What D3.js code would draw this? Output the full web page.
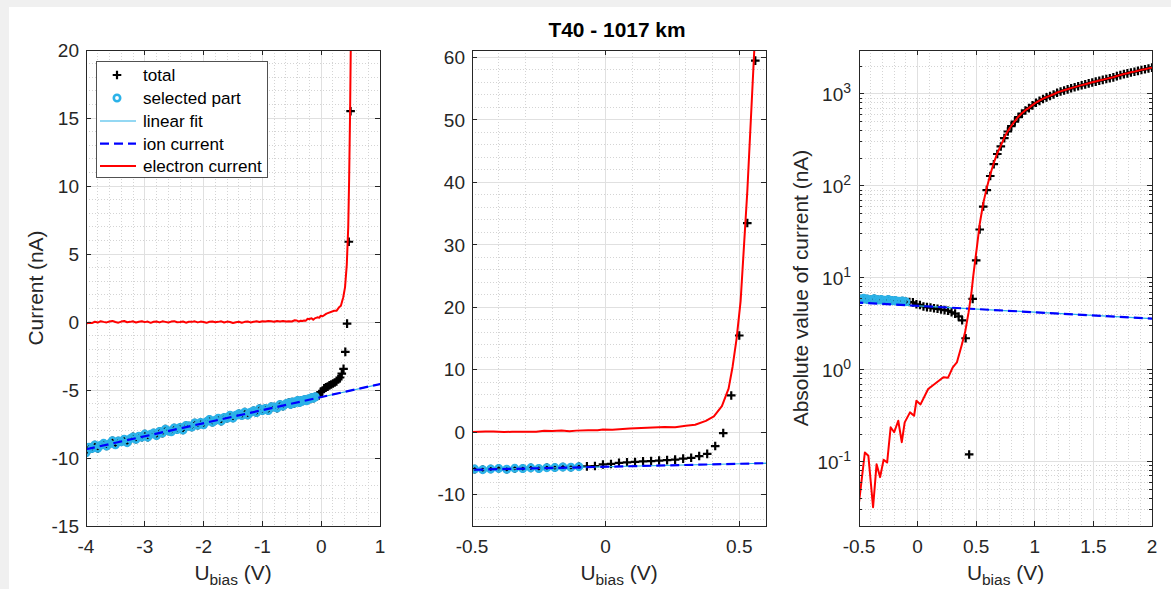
<!DOCTYPE html>
<html><head><meta charset="utf-8">
<script src="https://cdn.jsdelivr.net/npm/d3@7"></script>
<style>
body{margin:0;background:#fff;}
svg{display:block;}
text{font-family:"Liberation Sans",Arial,Helvetica,sans-serif;fill:#262626;}
</style>
</head><body>
<svg id="c" width="1171" height="589"></svg>
<script>
// ---------------- DATA ----------------
const titleText = "T40 - 1017 km";
const legendLabels = ["total", "selected part", "linear fit", "ion current", "electron current"];

// selected part of the sweep (used for the ion-current fit)
const selU = [-4.00,-3.95,-3.90,-3.85,-3.80,-3.75,-3.70,-3.65,-3.60,-3.55,-3.50,-3.45,-3.40,-3.35,-3.30,-3.25,-3.20,-3.15,-3.10,-3.05,
  -3.00,-2.95,-2.90,-2.85,-2.80,-2.75,-2.70,-2.65,-2.60,-2.55,-2.50,-2.45,-2.40,-2.35,-2.30,-2.25,-2.20,-2.15,-2.10,-2.05,
  -2.00,-1.95,-1.90,-1.85,-1.80,-1.75,-1.70,-1.65,-1.60,-1.55,-1.50,-1.45,-1.40,-1.35,-1.30,-1.25,-1.20,-1.15,-1.10,-1.05,
  -1.00,-0.95,-0.90,-0.85,-0.80,-0.75,-0.70,-0.65,-0.60,-0.55,
  -0.52,-0.49,-0.46,-0.43,-0.40,-0.37,-0.34,-0.31,-0.28,-0.25,-0.22,-0.19,-0.16,-0.13,-0.10];
const selI = [-9.61,-9.21,-9.31,-9.04,-9.29,-9.06,-8.92,-9.12,-8.96,-8.73,
  -9.03,-8.75,-8.81,-8.62,-8.87,-8.59,-8.45,-8.62,-8.40,-8.47,
  -8.24,-8.47,-8.26,-8.17,-8.35,-8.05,-8.17,-7.88,-8.01,-8.07,
  -7.79,-7.91,-7.75,-7.94,-7.61,-7.65,-7.72,-7.43,-7.59,-7.39,
  -7.56,-7.33,-7.17,-7.37,-7.23,-7.08,-7.29,-7.02,-7.08,-6.86,
  -7.06,-6.86,-6.75,-6.88,-6.63,-6.84,-6.64,-6.53,-6.66,-6.37,
  -6.51,-6.36,-6.51,-6.24,-6.25,-6.33,-6.06,-6.19,-6.02,-5.93,
  -6.06,-5.89,-5.98,-5.87,-5.78,-5.92,-5.77,-5.80,-5.69,-5.79,-5.66,-5.65,-5.56,-5.60,-5.50];

// rest of the total sweep
const restU = [-0.07,-0.04,-0.01,0.02,0.05,0.08,0.11,0.14,0.17,0.20,0.23,0.26,0.29,0.32,0.35,0.38,0.41,0.44,
  0.47,0.50,0.53,0.56,0.59,0.62,0.65,0.68,0.71,0.74,0.77,0.80,0.83,0.86,0.89,0.92,0.95,0.98,
  1.01,1.04,1.07,1.10,1.13,1.16,1.19,1.22,1.25,1.28,1.31,1.34,1.37,1.40,1.43,1.46,1.49,1.52,1.55,1.58,
  1.61,1.64,1.67,1.70,1.73,1.76,1.79,1.82,1.85,1.88,1.91,1.94,1.97,2.00];
const restI = [-5.45,-5.40,-5.15,-5.07,-4.88,-4.80,-4.75,-4.66,-4.60,-4.52,-4.45,-4.38,-4.22,-4.08,-3.80,-3.45,-2.20,-0.12,
  5.9,15.5,33.5,59.5,90,128,172,222,268,330,390,445,500,560,610,660,700,750,
  800,840,880,915,950,985,1030,1060,1090,1120,1150,1180,1210,1240,1270,1300,1330,1360,1390,1420,
  1450,1480,1510,1560,1600,1640,1670,1710,1740,1780,1820,1850,1890,1930];

// linear fit and ion current (same line)
const fitU = [-4.0, 2.0];
const fitI = [-9.36, -3.60];
const ionU = [-4.0, 2.0];
const ionI = [-9.36, -3.60];

// electron current
const elU = selU.slice(0, 70).concat([
  -0.50,-0.45,-0.42,-0.38,-0.35,-0.32,-0.29,-0.26,-0.23,-0.20,-0.165,-0.135,-0.11,-0.065,-0.03,-0.01,
  0.025,0.09,0.22,0.26,0.30,0.335,0.375,0.405,0.435,0.46,0.475,0.49,0.505]).concat(restU.slice(20));
const elI = [-0.12,-0.05,-0.08,0.02,-0.04,0.06,0.01,-0.03,0.04,0.08,
  0.00,-0.05,0.03,0.07,-0.02,0.01,0.05,-0.04,0.02,0.06,
  -0.01,0.03,-0.06,0.02,0.04,-0.03,0.05,0.01,-0.04,0.03,
  0.06,-0.02,0.00,0.04,-0.05,0.02,0.01,0.05,-0.03,0.03,
  0.00,-0.06,0.02,0.04,-0.02,0.01,0.05,-0.04,0.03,0.00,
  -0.07,-0.02,0.02,-0.05,0.01,0.04,-0.03,0.02,0.05,0.00,
  0.06,0.03,0.08,0.05,0.02,0.07,0.04,0.08,0.03,0.06,
  0.036,0.126,0.116,0.032,0.094,0.068,0.105,0.098,0.237,0.209,0.279,0.163,0.268,0.344,0.316,0.46,
  0.42,0.617,0.83,0.82,1.06,1.2,1.82,2.55,4.2,7.0,10.5,15.0,21.0,
  38.5,64.5,95,133,177,227,273,335,395,450,505,565,615,665,705,755,
  805,845,885,920,955,990,1035,1065,1095,1125,1155,1185,1215,1245,1275,1305,1335,1365,1395,1425,
  1455,1485,1515,1565,1605,1645,1675,1715,1745,1785,1825,1855,1895,1935];

// tick values
const p1XTicks = [-4,-3,-2,-1,0,1];
const p1YTicks = [-15,-10,-5,0,5,10,15,20];
const p2XTicks = [-0.5,0,0.5];
const p2YTicks = [-10,0,10,20,30,40,50,60];
const p3XTicks = [-0.5,0,0.5,1,1.5,2];
const p3YTicks = [0.1,1,10,100,1000];

// ---------------- DRAW ----------------
const W = 1171, H = 589;
const svg = d3.select("#c");
svg.append("rect").attr("width", W).attr("height", H).attr("fill", "#f0f0f0");
svg.append("rect").attr("x", 9).attr("y", 7).attr("width", W - 9).attr("height", H - 7).attr("fill", "#ffffff");

const AX = "#262626";
const CYAN = "#2BB2E8";
const FS_TICK = 19, FS_LAB = 20.9, FS_LEG = 17.1;
const PL = 4.3, PW = 2.2, CR = 3.2, CW = 2.6;
const zip = (a, b) => a.map((v, i) => [v, b[i]]);
const selected = zip(selU, selI);
const total = selected.concat(zip(restU, restI));
const fit = zip(fitU, fitI);
const ion = zip(ionU, ionI);
const electron = zip(elU, elI);

function fmt(v) { return String(v); }

function minorVals(a, b, step, majors) {
  const out = [];
  const n = Math.round((b - a) / step);
  for (let i = 0; i <= n; i++) {
    const v = a + i * step;
    if (!majors.some(m => Math.abs(m - v) < 1e-6)) out.push(v);
  }
  return out;
}

function drawPanel(p) {
  const g = svg.append("g");
  const xs = d3.scaleLinear().domain(p.xDom).range([p.l, p.r]);
  const ys = (p.log ? d3.scaleLog() : d3.scaleLinear()).domain(p.yDom).range([p.b, p.t]);
  const cid = "clip" + p.id;
  svg.append("clipPath").attr("id", cid).append("rect")
    .attr("x", p.l).attr("y", p.t).attr("width", p.r - p.l).attr("height", p.b - p.t);

  // grid
  const grid = g.append("g").attr("shape-rendering", "crispEdges");
  const minorStyle = s => s.attr("stroke", "#d4d4d4").attr("stroke-width", 1).attr("stroke-dasharray", "1,2");
  p.xMinor.forEach(v => minorStyle(grid.append("line").attr("x1", xs(v)).attr("x2", xs(v)).attr("y1", p.t).attr("y2", p.b)));
  p.yMinor.forEach(v => minorStyle(grid.append("line").attr("y1", ys(v)).attr("y2", ys(v)).attr("x1", p.l).attr("x2", p.r)));
  p.xTicks.forEach(v => grid.append("line").attr("x1", xs(v)).attr("x2", xs(v)).attr("y1", p.t).attr("y2", p.b).attr("stroke", "#e0e0e0"));
  p.yTicks.forEach(v => grid.append("line").attr("y1", ys(v)).attr("y2", ys(v)).attr("x1", p.l).attr("x2", p.r).attr("stroke", "#e0e0e0"));

  // data
  const dg = g.append("g").attr("clip-path", `url(#${cid})`);
  const yv = v => p.log ? Math.abs(v) : v;
  const pts = p.filter ? total.filter(p.filter) : total;
  dg.append("path")
    .attr("d", pts.map(d => { const X = xs(d[0]), Y = ys(yv(d[1])); return `M${X - PL},${Y}h${2 * PL}M${X},${Y - PL}v${2 * PL}`; }).join(""))
    .attr("stroke", "#000").attr("stroke-width", PW).attr("fill", "none");
  dg.selectAll("circle.sel").data(p.filter ? selected.filter(p.filter) : selected).join("circle")
    .attr("cx", d => xs(d[0])).attr("cy", d => ys(yv(d[1]))).attr("r", CR)
    .attr("fill", "none").attr("stroke", CYAN).attr("stroke-width", CW);
  const line = d3.line().x(d => xs(d[0])).y(d => ys(yv(d[1]))).defined(d => !p.log || Math.abs(d[1]) > 0);
  dg.append("path").attr("d", line(fit)).attr("fill", "none").attr("stroke", CYAN).attr("stroke-width", 1.2);
  dg.append("path").attr("d", line(ion)).attr("fill", "none").attr("stroke", "#0000FF").attr("stroke-width", 2.2).attr("stroke-dasharray", "9,5");
  const el = p.filter ? electron.filter(p.filter) : electron;
  dg.append("path").attr("d", line(el)).attr("fill", "none").attr("stroke", "#FF0000").attr("stroke-width", 2).attr("stroke-linejoin", "round");

  // axes box + ticks
  const ax = g.append("g").attr("shape-rendering", "crispEdges");
  ax.append("rect").attr("x", p.l).attr("y", p.t).attr("width", p.r - p.l).attr("height", p.b - p.t)
    .attr("fill", "none").attr("stroke", AX).attr("stroke-width", 1);
  const TL = 5;
  p.xTicks.forEach(v => {
    const X = xs(v);
    ax.append("line").attr("x1", X).attr("x2", X).attr("y1", p.b).attr("y2", p.b - TL).attr("stroke", AX);
    ax.append("line").attr("x1", X).attr("x2", X).attr("y1", p.t).attr("y2", p.t + TL).attr("stroke", AX);
    g.append("text").attr("x", X).attr("y", 553).attr("text-anchor", "middle").attr("font-size", FS_TICK).text(fmt(v));
  });
  p.yTicks.forEach(v => {
    const Y = ys(v);
    ax.append("line").attr("y1", Y).attr("y2", Y).attr("x1", p.l).attr("x2", p.l + TL).attr("stroke", AX);
    ax.append("line").attr("y1", Y).attr("y2", Y).attr("x1", p.r).attr("x2", p.r - TL).attr("stroke", AX);
    if (p.log) {
      const e = Math.round(Math.log10(v));
      const t = g.append("text").attr("x", p.l - 8).attr("y", Y + 7).attr("text-anchor", "end").attr("font-size", FS_TICK);
      t.append("tspan").text("10");
      t.append("tspan").attr("dy", -8).attr("font-size", 14).text(String(e));
    } else {
      g.append("text").attr("x", p.l - 7).attr("y", Y).attr("dy", "0.35em").attr("text-anchor", "end").attr("font-size", FS_TICK).text(fmt(v));
    }
  });
  if (p.log) {
    p.yMinor.forEach(v => {
      const Y = ys(v);
      ax.append("line").attr("y1", Y).attr("y2", Y).attr("x1", p.l).attr("x2", p.l + 3).attr("stroke", AX);
      ax.append("line").attr("y1", Y).attr("y2", Y).attr("x1", p.r).attr("x2", p.r - 3).attr("stroke", AX);
    });
  }

  // x label
  const cx = (p.l + p.r) / 2;
  const xl = g.append("text").attr("x", cx).attr("y", 580).attr("text-anchor", "middle").attr("font-size", FS_LAB);
  xl.append("tspan").text("U");
  xl.append("tspan").attr("dy", 5).attr("font-size", 15.5).text("bias");
  xl.append("tspan").attr("dy", -5).text(" (V)");
  if (p.ylabel) {
    g.append("text").attr("transform", `translate(${p.ylx},${(p.t + p.b) / 2}) rotate(-90)`)
      .attr("text-anchor", "middle").attr("font-size", FS_LAB).text(p.ylabel);
  }
  return { xs, ys };
}

// Panel 1
drawPanel({ id: 1, l: 86, r: 380, t: 50, b: 526, xDom: [-4, 1], yDom: [-15, 20],
  xTicks: p1XTicks, yTicks: p1YTicks,
  xMinor: minorVals(-4, 1, 0.2, p1XTicks), yMinor: minorVals(-15, 20, 1, p1YTicks),
  ylabel: "Current (nA)", ylx: 43 });

// Panel 2
drawPanel({ id: 2, l: 472, r: 766, t: 50, b: 526, xDom: [-0.5, 0.6], yDom: [-15, 61.2],
  xTicks: p2XTicks, yTicks: p2YTicks,
  xMinor: minorVals(-0.5, 0.6, 0.1, p2XTicks), yMinor: minorVals(-14, 60, 2, p2YTicks),
  filter: d => d[0] >= -0.56 });

// Panel 3 (log)
const logMinor = [];
for (let e = -2; e <= 3; e++) for (let k = 2; k <= 9; k++) { const v = k * Math.pow(10, e); if (v >= 0.02 && v <= 3000) logMinor.push(v); }
drawPanel({ id: 3, l: 859, r: 1152, t: 50, b: 526, xDom: [-0.5, 2], yDom: [0.02, 3000], log: true,
  xTicks: p3XTicks, yTicks: p3YTicks,
  xMinor: minorVals(-0.5, 2, 0.1, p3XTicks), yMinor: logMinor,
  filter: d => d[0] >= -0.56,
  ylabel: "Absolute value of current (nA)", ylx: 808 });

// Title
svg.append("text").attr("x", 617).attr("y", 37).attr("text-anchor", "middle")
  .attr("font-size", 20.9).attr("font-weight", "bold").style("fill", "#000").text(titleText);

// Legend (panel 1)
const lg = svg.append("g");
lg.append("rect").attr("x", 96).attr("y", 61).attr("width", 171).attr("height", 116)
  .attr("fill", "#fff").attr("stroke", AX).attr("stroke-width", 0.8).attr("shape-rendering", "crispEdges");
const rowY = [75, 98, 121, 143.7, 166];
legendLabels.forEach((t, i) => {
  lg.append("text").attr("x", 143).attr("y", rowY[i]).attr("dy", "0.35em").attr("font-size", FS_LEG).style("fill", "#000").text(t);
});
lg.append("path").attr("d", `M${117 - PL},${rowY[0]}h${2 * PL}M117,${rowY[0] - PL}v${2 * PL}`).attr("stroke", "#000").attr("stroke-width", PW);
lg.append("circle").attr("cx", 117).attr("cy", rowY[1]).attr("r", CR).attr("fill", "none").attr("stroke", CYAN).attr("stroke-width", CW);
lg.append("line").attr("x1", 100).attr("x2", 136).attr("y1", rowY[2]).attr("y2", rowY[2]).attr("stroke", CYAN).attr("stroke-width", 1.2);
lg.append("line").attr("x1", 100).attr("x2", 136).attr("y1", rowY[3]).attr("y2", rowY[3]).attr("stroke", "#0000FF").attr("stroke-width", 2.2).attr("stroke-dasharray", "9,5");
lg.append("line").attr("x1", 100).attr("x2", 136).attr("y1", rowY[4]).attr("y2", rowY[4]).attr("stroke", "#FF0000").attr("stroke-width", 2);
</script>
</body></html>
